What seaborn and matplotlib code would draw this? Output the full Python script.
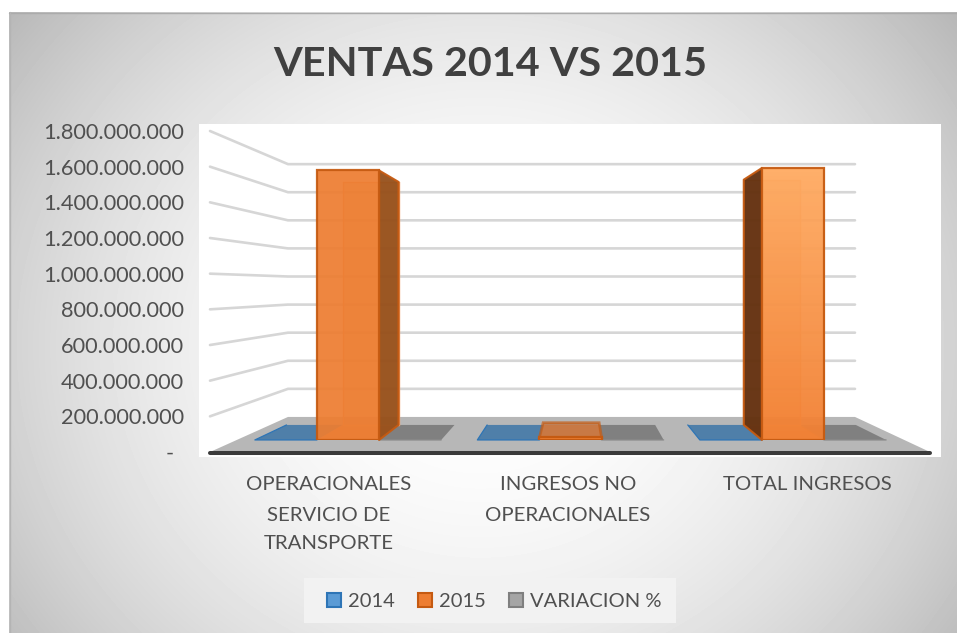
import numpy as np
import pandas as pd
import matplotlib
matplotlib.use("Agg")
import matplotlib.pyplot as plt
from matplotlib.patches import Polygon, Rectangle, Patch
from matplotlib.transforms import ScaledTranslation
import seaborn as sns

# ---------- data ----------
categories = ["OPERACIONALES\nSERVICIO DE\nTRANSPORTE", "INGRESOS NO\nOPERACIONALES", "TOTAL INGRESOS"]
series_names = ["2014", "2015", "VARIACION %"]
values_2014 = [0, 0, 0]
values_2015 = [1630000000, 15000000, 1645000000]
values_var = [0, 0, 0]
y_ticks = [0, 200000000, 400000000, 600000000, 800000000, 1000000000,
           1200000000, 1400000000, 1600000000, 1800000000]
title = "VENTAS 2014 VS 2015"

df = pd.DataFrame({
    "cat": categories * 3,
    "serie": np.repeat(series_names, 3),
    "value": values_2014 + values_2015 + values_var,
})

# ---------- styles / geometry ----------
W, H = 957, 633
BLUE, ORANGE, GREY = "#5B9BD5", "#ED7D31", "#A5A5A5"
BLUE_E, ORANGE_E, GREY_E = "#2E75B6", "#C55A11", "#7F7F7F"
TXT = "#505050"
FONT = "Lato"

sns.set_theme(style="white")
plt.rcParams["font.family"] = [FONT, "DejaVu Sans"]

fig = plt.figure(figsize=(W / 100, H / 100), dpi=100, facecolor="white")


def rect(x0, y0, x1, y1):
    """pixel box (y down) -> figure fractions"""
    return [x0 / W, 1 - y1 / H, (x1 - x0) / W, (y1 - y0) / H]


# background panel with radial gradient
bg = fig.add_axes([0, 0, 1, 1], zorder=0)
bg.set_xlim(0, W)
bg.set_ylim(H, 0)
bg.axis("off")
yy, xx = np.mgrid[12:H, 9:W]
r = np.sqrt(((xx - 480) / 1.05) ** 2 + ((yy - 345) / 0.95) ** 2) / 560
grad = np.clip(1 - 0.27 * r ** 2, 0, 1)
bg.imshow(grad, extent=(9, W, H, 12), cmap="gray", vmin=0, vmax=1, aspect="auto", zorder=0)
bg.plot([9, W], [12.5, 12.5], color="#ABABAB", lw=1, zorder=1)
bg.plot([9.5, 9.5], [12, H], color="#B4B4B4", lw=1, zorder=1)
bg.add_patch(Rectangle((199, 124), 742, 333, fc="white", ec="none", zorder=2))
bg.add_patch(Rectangle((304, 578), 372, 45, fc="#F2F2F2", ec="none", zorder=2))
bg.set_xlim(0, W)
bg.set_ylim(H, 0)

# front plane of the 3D box: categories across, values up
FX0, FX1, FY0, FY1 = 210, 930, 131, 452
ax = fig.add_axes(rect(FX0, FY0, FX1, FY1), zorder=1)
ax.patch.set_alpha(0)
ax.set_xlim(-0.5, 2.5)
ax.set_ylim(0, 1800000000)

# perspective: vanishing point in data units, depth factors
UC = (577 - FX0) / (FX1 - FX0) * 3 - 0.5
VC = (FY1 - 287) / (FY1 - FY0) * 1800000000
S_BACK = 0.7875
S_BAR_F, S_BAR_B = 0.927, 0.836


def proj(u, v, s):
    return (UC + (u - UC) * s, VC + (v - VC) * s)


def quad(*pts, **kw):
    p = Polygon(pts, closed=True, clip_on=False, **kw)
    ax.add_patch(p)
    return p


# floor
quad(proj(-0.5, 0, 1), proj(2.5, 0, 1), proj(2.5, 0, S_BACK), proj(-0.5, 0, S_BACK),
     fc="#B7B7B7", ec="none", zorder=1)
# gridlines (side wall + back wall)
for t in y_ticks[1:]:
    a, b, c = proj(-0.5, t, 1), proj(-0.5, t, S_BACK), proj(2.5, t, S_BACK)
    ax.plot([a[0], b[0], c[0]], [a[1], b[1], c[1]], color="#D6D6D6", lw=1.9,
            clip_on=False, zorder=0.5, solid_joinstyle="miter")

# bars: front faces, at the depth of the bar front
l, b_ = ax.transData.transform(proj(-0.5, 0, S_BAR_F))
r_, t_ = ax.transData.transform(proj(2.5, 1800000000, S_BAR_F))
inv = fig.transFigure.inverted()
(fl, fb), (fr, ft) = inv.transform((l, b_)), inv.transform((r_, t_))
axb = fig.add_axes([fl, fb, fr - fl, ft - fb], zorder=2)
sns.barplot(data=df, x="cat", y="value", hue="serie", order=categories,
            hue_order=series_names, palette=[BLUE, ORANGE, GREY], saturation=1,
            width=0.8375, gap=0, dodge=True, legend=False, ax=axb)
axb.set_xlim(-0.5, 2.5)
axb.set_ylim(0, 1800000000)
axb.patch.set_alpha(0)
axb.axis("off")

blue_bars, orange_bars, grey_bars = axb.containers[0], axb.containers[1], axb.containers[2]

# floor footprints for the flat series
for bars, fc, ec in ((blue_bars, "#4F7FA9", BLUE_E), (grey_bars, "#808080", "#8A8A8A")):
    for bar in bars:
        bar.set_visible(False)
        u0, u1 = bar.get_x(), bar.get_x() + bar.get_width()
        v = bar.get_height()
        quad(proj(u0, v, S_BAR_F), proj(u1, v, S_BAR_F), proj(u1, v, S_BAR_B), proj(u0, v, S_BAR_B),
             fc=fc, ec="none", zorder=2)
        pts = [proj(u0, v, S_BAR_B), proj(u0, v, S_BAR_F), proj(u1, v, S_BAR_F)]
        ax.plot(*zip(*pts), color=ec, lw=0.9, clip_on=False, zorder=2.1)

# the 2015 boxes
side_colors = ["#96501B", None, "#62300F"]
for i, bar in enumerate(orange_bars):
    u0, u1 = bar.get_x(), bar.get_x() + bar.get_width()
    v = bar.get_height()
    f, k = S_BAR_F, S_BAR_B
    # bottom, back, top seen through the translucent front
    quad(proj(u0, 0, f), proj(u1, 0, f), proj(u1, 0, k), proj(u0, 0, k),
         fc=ORANGE, alpha=0.55, ec="none", zorder=3)
    if v > 100000000:
        quad(proj(u0, 0, k), proj(u1, 0, k), proj(u1, v, k), proj(u0, v, k),
             fc=ORANGE, alpha=0.35, ec="none", zorder=3)
        for uu in (u0, u1):
            a, c = proj(uu, 0, k), proj(uu, v, k)
            ax.plot([a[0], c[0]], [a[1], c[1]], color="#F3A26B", lw=1, clip_on=False, zorder=3.1)
        for vv in (0, v):
            a, c = proj(u0, vv, k), proj(u1, vv, k)
            ax.plot([a[0], c[0]], [a[1], c[1]], color="#F3A26B", lw=1, clip_on=False, zorder=3.1)
        # visible side face
        uu = u1 if i == 0 else u0
        quad(proj(uu, 0, f), proj(uu, v, f), proj(uu, v, k), proj(uu, 0, k),
             fc=side_colors[i], alpha=0.95, ec=ORANGE_E, lw=1.5, zorder=3.2, joinstyle="round")
        bar.set_alpha(0.93)
        bar.set_edgecolor(ORANGE_E)
        bar.set_linewidth(1.6)
    else:
        quad(proj(u0, v, f), proj(u1, v, f), proj(u1, v, k), proj(u0, v, k),
             fc="#C26A30", alpha=0.65, ec=ORANGE_E, lw=2, zorder=3.2)
        bar.set_edgecolor(ORANGE_E)
        bar.set_linewidth(1.6)

# lighter gradient on the total bar
tot = orange_bars[2]
x0, w, h = tot.get_x(), tot.get_width(), tot.get_height()
tot.set_facecolor("none")
g = np.linspace(0, 1, 64)[:, None, None]
top = np.array([[[0xFF / 255, 0xAB / 255, 0x62 / 255]]])
bot = np.array([[[0xF2 / 255, 0x80 / 255, 0x33 / 255]]])
img = axb.imshow(top * (1 - g) + bot * g, extent=(x0, x0 + w, 0, h), aspect="auto", alpha=0.95, zorder=1)
img.set_clip_path(tot)
axb.set_xlim(-0.5, 2.5)
axb.set_ylim(0, 1800000000)
tot.set_zorder(2)

# axes decoration
ax.set_yticks(y_ticks)
ax.set_yticklabels(["-" if t == 0 else f"{t:,}".replace(",", ".") for t in y_ticks])
ax.tick_params(axis="y", length=0, pad=18.7, labelsize=15.7, labelcolor=TXT)
ax.set_xticks([])
# category labels, line by line, below the axis
line_y_px = (484.5, 515.5, 543.5)
label_dx_px = (-1.5, -2, -3)
for i, cat in enumerate(categories):
    for j, txt in enumerate(cat.split("\n")):
        ax.annotate(txt, xy=(i, 0), xycoords=ax.get_xaxis_transform(),
                    xytext=(label_dx_px[i] * 0.72, -(line_y_px[j] - FY1) * 0.72),
                    textcoords="offset points", ha="center", va="center",
                    fontsize=14.7, color=TXT, annotation_clip=False)
ylabs = ax.get_yticklabels()
ylabs[0].set_transform(ylabs[0].get_transform() + ScaledTranslation(-0.10, 0, fig.dpi_scale_trans))
for s in ("top", "left", "right"):
    ax.spines[s].set_visible(False)
ax.spines["bottom"].set_color("#3A3A3A")
ax.spines["bottom"].set_linewidth(2.9)
ax.spines["bottom"].set_position(("outward", 1))
ax.spines["bottom"].set_capstyle("round")
ax.spines["bottom"].set_zorder(1.5)
ax.grid(False)

# title
fig.text(490 / W, 1 - 64 / H, title, ha="center", va="center", fontsize=29.8,
         fontweight="bold", color="#404040")

# legend
handles = [Patch(fc=BLUE, ec=BLUE_E, lw=1.5), Patch(fc=ORANGE, ec=ORANGE_E, lw=1.5),
           Patch(fc=GREY, ec=GREY_E, lw=1.5)]
leg = fig.legend(handles, series_names, ncol=3, loc="center", bbox_to_anchor=(494 / W, 1 - 601.5 / H),
                 frameon=False, fontsize=14.5, labelcolor=TXT, handlelength=0.72, handleheight=0.72,
                 handletextpad=0.32, columnspacing=1.15, borderpad=0, borderaxespad=0)
leg.set_zorder(5)

fig.savefig("out.png", dpi=100)
